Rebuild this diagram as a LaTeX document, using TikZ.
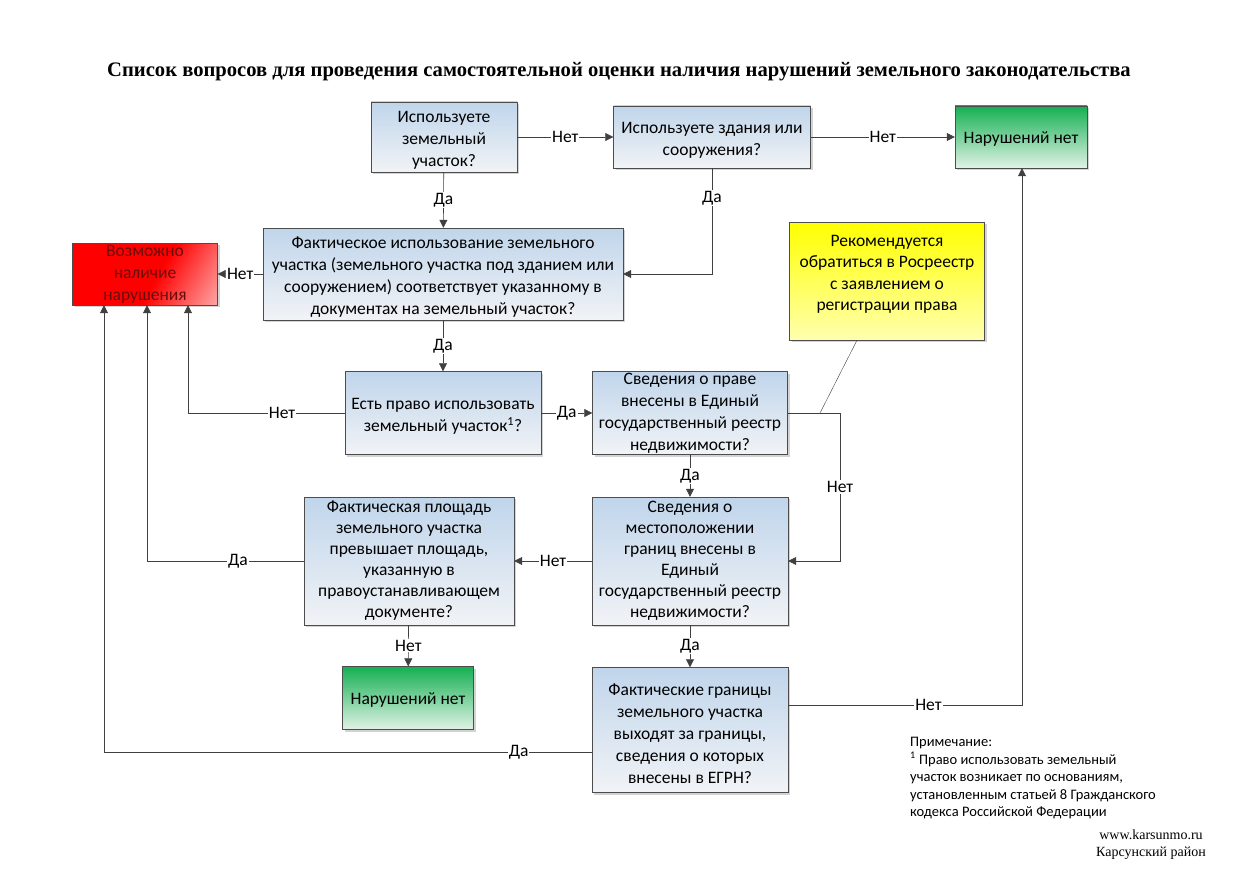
\documentclass[tikz,border=0pt]{standalone}
\usepackage{fontspec}
\setmainfont{Carlito}
\newfontfamily\serifrm{Liberation Serif}
\usetikzlibrary{shadows,arrows.meta}
\pgfdeclarehorizontalshading{redfade}{100bp}{color(0bp)=(red); color(55bp)=(red); color(100bp)=(white)}
\definecolor{boxtop}{RGB}{192,213,235}
\definecolor{boxbot}{RGB}{241,243,246}
\definecolor{lnk}{RGB}{64,64,64}
\definecolor{badtext}{RGB}{105,12,12}
\newcommand\lift{\rule{0pt}{18.5pt}}
\begin{document}
\begin{tikzpicture}[
  x=1pt, y=-1pt,
  font=\fontsize{17.5}{22}\selectfont,
  box/.style={draw=black!70, thin, align=center, inner xsep=2pt, inner ysep=0pt,
    top color=boxtop, bottom color=boxbot,
    drop shadow={shadow xshift=2pt, shadow yshift=-2pt, opacity=.35}},
  qbox/.style={box},
  tallbox/.style={box, font=\fontsize{17.5}{21}\selectfont},
  okbox/.style={box, top color={rgb,255:red,20;green,176;blue,82},
    bottom color={rgb,255:red,225;green,242;blue,230}},
  badbox/.style={qbox, shading=redfade, shading angle=-30, text=badtext},
  notebox/.style={box, font=\fontsize{17.5}{21.3}\selectfont, text depth=16pt,
    top color=yellow, bottom color={rgb,255:red,255;green,255;blue,175}},
  link/.style={lnk, semithick, -{Triangle[length=8pt,width=8pt]}},
  lbl/.style={fill=white, inner sep=1pt, text=black}]
\useasboundingbox (0,0) rectangle (1236,872);
% title
\node (title) at (619,72) {\serifrm\bfseries\fontsize{20.6}{24}\selectfont
  Список вопросов для проведения самостоятельной оценки наличия нарушений земельного законодательства};
% questions
\node[qbox, minimum width=146, minimum height=70] (use) at (444,137)
  {\lift Используете\\земельный\\участок?};
\node[qbox, minimum width=197, minimum height=62] (bld) at (712,137)
  {\lift Используете здания или\\сооружения?};
\node[okbox, minimum width=132, minimum height=62] (ok1) at (1021,137) {\rule{0pt}{15pt}Нарушений нет};
\node[qbox, minimum width=360, minimum height=92] (fact) at (443,274)
  {\lift Фактическое использование земельного\\участка (земельного участка под зданием или\\сооружением) соответствует указанному в\\документах на земельный участок?};
\node[badbox, minimum width=145, minimum height=62] (bad) at (145,274)
  {Возможно\\наличие\\нарушения};
\node[notebox, minimum width=195, minimum height=118] (ros) at (887,281)
  {Рекомендуется\\обратиться в Росреестр\\с заявлением о\\регистрации права};
\node[qbox, minimum width=196, minimum height=83] (right) at (443,413)
  {\lift Есть право использовать\\земельный участок\textsuperscript{1}?};
\node[qbox, minimum width=195, minimum height=83] (reg) at (690,413)
  {Сведения о праве\\внесены в Единый\\государственный реестр\\недвижимости?};
\node[tallbox, minimum width=210, minimum height=128] (area) at (409,561)
  {Фактическая площадь\\земельного участка\\превышает площадь,\\указанную в\\правоустанавливающем\\документе?};
\node[tallbox, minimum width=196, minimum height=128] (bnd) at (690,561)
  {Сведения о\\местоположении\\границ внесены в\\Единый\\государственный реестр\\недвижимости?};
\node[okbox, minimum width=131, minimum height=63] (ok2) at (408,698) {\rule{0pt}{15pt}Нарушений нет};
\node[qbox, minimum width=196, minimum height=125] (out) at (690,730)
  {\lift Фактические границы\\земельного участка\\выходят за границы,\\сведения о которых\\внесены в ЕГРН?};
% connectors
\draw[link] (use) -- node[lbl]{Нет} (bld);
\draw[link] (bld) -- node[lbl]{Нет} (ok1);
\draw[link] (use) -- node[lbl]{Да} (fact);
\draw[link] (bld.south) |- node[lbl, pos=.14]{Да} (fact.east);
\draw[link] (fact) -- node[lbl]{Нет} (bad);
\draw[link] (fact) -- node[lbl]{Да} (right);
\draw[link] (right.west) -| node[lbl, pos=.2]{Нет} ([xshift=43pt]bad.south);
\draw[link] (right) -- node[lbl]{Да} (reg);
\draw[link] (reg) -- node[lbl]{Да} (bnd);
\coordinate (tip) at (820,413);
\draw[link] (reg.east) -- (840,413) |- node[lbl, pos=.25]{Нет} (bnd.east);
\draw[lnk, thin] ([xshift=-30pt]ros.south) -- (tip);
\draw[link] (bnd) -- node[lbl]{Нет} (area);
\draw[link] (area.west) -| node[lbl, pos=.21]{Да} ([xshift=2pt]bad.south);
\draw[link] (area) -- node[lbl]{Нет} (ok2);
\draw[link] (bnd) -- node[lbl]{Да} (out);
\draw[link] (out.east |- 0,705) -| node[lbl, pos=.3]{Нет} ([xshift=1pt]ok1.south);
\draw[link] (out.west |- 0,752) -| node[lbl, pos=.075]{Да} ([xshift=-41pt]bad.south);
% note
\node[anchor=north west, align=left, inner sep=0pt, font=\fontsize{14.5}{17.5}\selectfont] (note) at (910,737)
  {Примечание:\\\textsuperscript{1} Право использовать земельный\\участок возникает по основаниям,\\установленным статьей 8 Гражданского\\кодекса Российской Федерации};
\node[align=center, inner sep=0pt, font=\serifrm\fontsize{14}{17}\selectfont] (site) at (1151,845)
  {www.karsunmo.ru\\Карсунский район};
\end{tikzpicture}
\end{document}
